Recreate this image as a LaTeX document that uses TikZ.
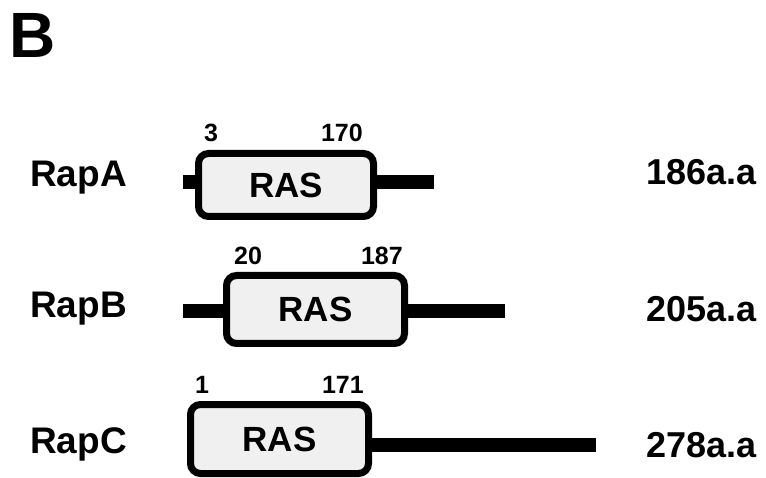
\documentclass[tikz,border=0pt]{standalone}
\usepackage{fontspec}
\setmainfont{Liberation Sans}
\usetikzlibrary{positioning}
\definecolor{rasgray}{HTML}{F0F0F0}
\tikzset{
rasbox/.style={draw,line width=7pt,rounded corners=10pt,fill=rasgray,inner sep=0pt,font=\fontsize{35}{40}\selectfont\bfseries},
chain/.style={line width=14pt},
protname/.style={anchor=base west,inner sep=0pt,font=\fontsize{37}{40}\selectfont\bfseries},
aalen/.style={anchor=base west,inner sep=0pt,font=\fontsize{36}{40}\selectfont\bfseries},
resnum/.style={inner sep=0pt,font=\fontsize{25}{28}\selectfont\bfseries}
}

\begin{document}
\begin{tikzpicture}[x=1pt,y=-1pt]
\useasboundingbox (0,0) rectangle (766,478);
\node[anchor=base west,inner sep=0pt,font=\fontsize{64}{70}\selectfont\bfseries] (panel) at (9,58) {B};

% RapA
\coordinate (a0) at (183,182.5);
\coordinate (a1) at (434,182.5);
\draw[chain] (a0)--(a1);
\node[rasbox,minimum width=175pt,minimum height=63pt] (rasA) at (286,185) {RAS};
\node[protname] (rapA) at (30,187) {RapA};
\node[aalen] (lenA) at (646,185) {186a.a};
\node[resnum,anchor=base west] (a3) at (204,142) {3};
\node[resnum,anchor=base east] (a170) at (363,142) {170};

% RapB
\coordinate (b0) at (183,311.5);
\coordinate (b1) at (505,311.5);
\draw[chain] (b0)--(b1);
\node[rasbox,minimum width=178pt,minimum height=68pt] (rasB) at (315.5,309.5) {RAS};
\node[protname] (rapB) at (30,318) {RapB};
\node[aalen] (lenB) at (646,322) {205a.a};
\node[resnum,anchor=base west] (b20) at (234,265) {20};
\node[resnum,anchor=base east] (b187) at (403,265) {187};

% RapC
\coordinate (c0) at (192,444.5);
\coordinate (c1) at (596,444.5);
\draw[chain] (c0)--(c1);
\node[rasbox,minimum width=178pt,minimum height=69pt] (rasC) at (279.5,439) {RAS};
\node[protname] (rapC) at (30,453) {RapC};
\node[aalen] (lenC) at (646,457) {278a.a};
\node[resnum,anchor=base west] (c1n) at (195,393) {1};
\node[resnum,anchor=base east] (c171) at (364,393) {171};
\end{tikzpicture}
\end{document}
